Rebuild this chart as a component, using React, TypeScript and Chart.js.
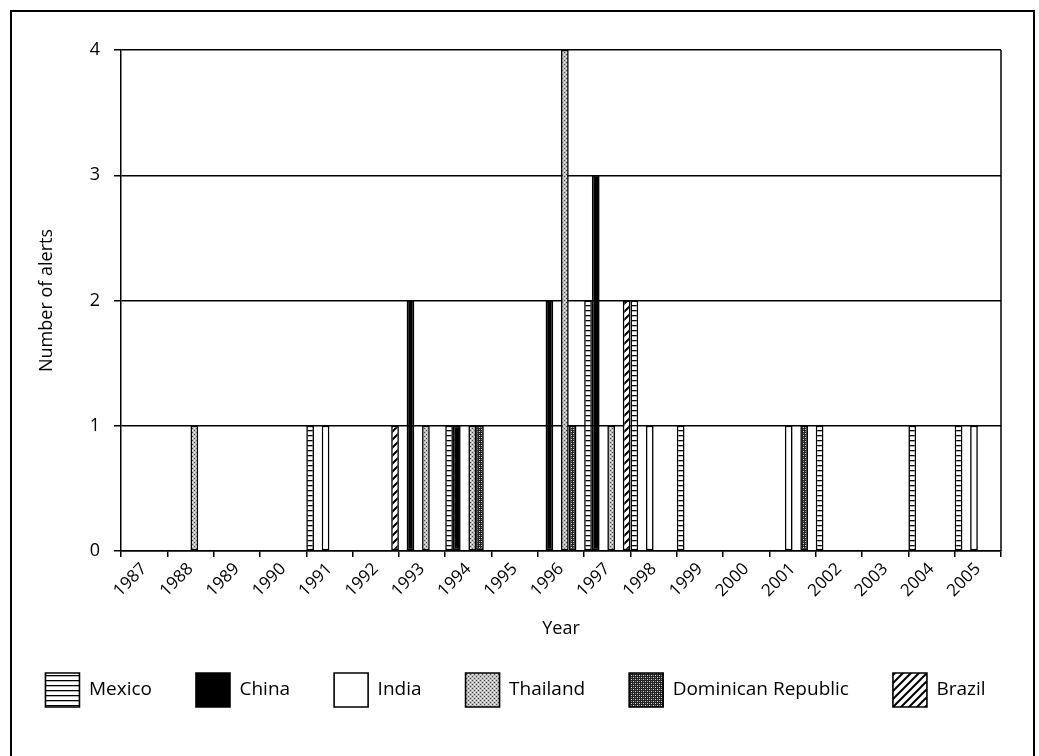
import React, { useEffect, useRef } from "react";
import { Chart, registerables } from "chart.js";

Chart.register(...registerables);

const years = [
  "1987", "1988", "1989", "1990", "1991", "1992", "1993", "1994", "1995", "1996",
  "1997", "1998", "1999", "2000", "2001", "2002", "2003", "2004", "2005",
];

const mexico = [0, 0, 0, 0, 1, 0, 0, 1, 0, 0, 2, 2, 1, 0, 0, 1, 0, 1, 1];
const china = [0, 0, 0, 0, 0, 0, 2, 1, 0, 2, 3, 0, 0, 0, 0, 0, 0, 0, 0];
const india = [0, 0, 0, 0, 1, 0, 0, 0, 0, 0, 0, 1, 0, 0, 1, 0, 0, 0, 1];
const thailand = [0, 1, 0, 0, 0, 0, 1, 1, 0, 4, 1, 0, 0, 0, 0, 0, 0, 0, 0];
const dominicanRepublic = [0, 0, 0, 0, 0, 0, 0, 1, 0, 1, 0, 0, 0, 0, 1, 0, 0, 0, 0];
const brazil = [0, 0, 0, 0, 0, 1, 0, 0, 0, 0, 2, 0, 0, 0, 0, 0, 0, 0, 0];

const seriesNames = ["Mexico", "China", "India", "Thailand", "Dominican Republic", "Brazil"];
const seriesValues = [mexico, china, india, thailand, dominicanRepublic, brazil];
const yTicks = [0, 1, 2, 3, 4];

const FONT = "'Open Sans', 'DejaVu Sans', sans-serif";

function makePattern(kind: string): CanvasPattern | string {
  const c = document.createElement("canvas");
  const ctx = c.getContext("2d")!;
  if (kind === "hlines") {
    c.width = 8; c.height = 5;
    ctx.fillStyle = "#fff"; ctx.fillRect(0, 0, 8, 5);
    ctx.fillStyle = "#000"; ctx.fillRect(0, 0, 8, 1.3);
  } else if (kind === "light") {
    c.width = 4; c.height = 4;
    ctx.fillStyle = "#bdbdbd"; ctx.fillRect(0, 0, 4, 4);
    ctx.fillStyle = "#444";
    ctx.fillRect(0, 0, 1, 1); ctx.fillRect(2, 2, 1, 1);
    ctx.fillStyle = "#f0f0f0";
    ctx.fillRect(2, 0, 1, 1); ctx.fillRect(0, 2, 1, 1);
  } else if (kind === "dark") {
    c.width = 4; c.height = 4;
    ctx.fillStyle = "#222"; ctx.fillRect(0, 0, 4, 4);
    ctx.fillStyle = "#d8d8d8";
    ctx.fillRect(1, 1, 1, 1); ctx.fillRect(3, 3, 1, 1);
    ctx.fillStyle = "#888";
    ctx.fillRect(3, 1, 1, 1); ctx.fillRect(1, 3, 1, 1);
  } else if (kind === "diag") {
    c.width = 8; c.height = 8;
    ctx.fillStyle = "#fff"; ctx.fillRect(0, 0, 8, 8);
    ctx.strokeStyle = "#000"; ctx.lineWidth = 2;
    ctx.beginPath();
    ctx.moveTo(0, 8); ctx.lineTo(8, 0);
    ctx.moveTo(-2, 2); ctx.lineTo(2, -2);
    ctx.moveTo(6, 10); ctx.lineTo(10, 6);
    ctx.stroke();
  } else if (kind === "black") {
    return "#000";
  } else {
    return "#fff";
  }
  return ctx.createPattern(c, "repeat")!;
}

const patternKinds = ["hlines", "black", "white", "light", "dark", "diag"];

const plotBorder = {
  id: "plotBorder",
  afterDraw(chart: any) {
    const { ctx, chartArea } = chart;
    ctx.save();
    ctx.strokeStyle = "#000";
    ctx.lineWidth = 1.5;
    ctx.beginPath();
    ctx.moveTo(chartArea.right, chartArea.top);
    ctx.lineTo(chartArea.right, chartArea.bottom);
    ctx.stroke();
    ctx.restore();
  },
};

export default function App() {
  const ref = useRef<HTMLCanvasElement>(null);

  useEffect(() => {
    const canvas = ref.current!;
    const datasets = seriesNames.map((name, i) => ({
      label: name,
      data: seriesValues[i],
      backgroundColor: makePattern(patternKinds[i]) as any,
      borderColor: "#000",
      borderWidth: 1.6,
      borderSkipped: false as any,
      inflateAmount: 0,
      categoryPercentage: 1,
      barPercentage: 1,
    }));

    const chart = new Chart(canvas, {
      type: "bar",
      data: { labels: years, datasets },
      plugins: [plotBorder],
      options: {
        responsive: false,
        animation: false,
        devicePixelRatio: 1,
        layout: { padding: { left: 0, right: 8, top: 50, bottom: 39 } },
        plugins: {
          tooltip: { enabled: false },
          legend: {
            position: "bottom",
            labels: {
              boxWidth: 34,
              boxHeight: 34,
              padding: 44,
              color: "#000",
              font: { family: FONT, size: 19 },
            },
          },
        },
        scales: {
          x: {
            afterFit: (s: any) => { s.height = 78; },
            grid: {
              display: true,
              drawOnChartArea: false,
              drawTicks: true,
              tickLength: 6,
              color: "#000",
              lineWidth: 1.5,
              offset: true,
            },
            border: { display: true, color: "#000", width: 1.5 },
            ticks: {
              color: "#000",
              font: { family: FONT, size: 17 },
              minRotation: 45,
              maxRotation: 45,
              autoSkip: false,
              padding: 2,
            },
            title: {
              display: true,
              text: "Year",
              color: "#000",
              font: { family: FONT, size: 18 },
              padding: { top: 0, bottom: -11 },
            },
          },
          y: {
            min: 0,
            max: 4,
            afterFit: (s: any) => { s.width = 121; },
            afterBuildTicks: (s: any) => { s.ticks = yTicks.map((v) => ({ value: v })); },
            grid: {
              color: "#000",
              lineWidth: 1.5,
              drawTicks: true,
              tickLength: 7,
            },
            border: { display: true, color: "#000", width: 1.5 },
            ticks: {
              color: "#000",
              font: { family: FONT, size: 18 },
              padding: 14,
            },
            title: {
              display: true,
              text: "Number of alerts",
              color: "#000",
              font: { family: FONT, size: 18 },
              padding: { top: 36, bottom: 0 },
            },
          },
          yRight: {
            position: "right",
            display: true,
            min: 0,
            max: 4,
            afterFit: (s: any) => { s.width = 30; },
            grid: { display: false, drawTicks: false },
            border: { display: false },
            ticks: { display: false },
          },
        },
      },
    });
    return () => chart.destroy();
  }, []);

  return (
    <div
      style={{
        position: "fixed", left: 0, top: 0, width: 1039, height: 756,
        background: "#fff", overflow: "hidden",
      }}
    >
      <canvas
        ref={ref}
        width={1039}
        height={756}
        style={{ position: "absolute", left: 0, top: 0, width: 1039, height: 756 }}
      />
      <div
        style={{
          position: "absolute", left: 10, top: 10, width: 1025, height: 800,
          border: "2px solid #000", borderBottom: "none", boxSizing: "border-box",
          pointerEvents: "none",
        }}
      />
    </div>
  );
}
